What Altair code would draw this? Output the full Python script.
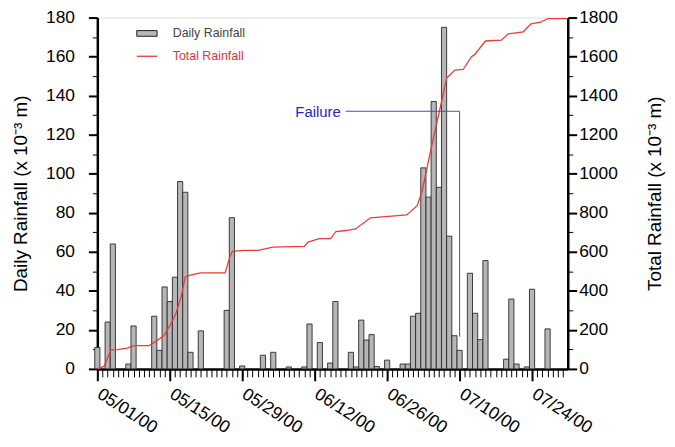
import json
import altair as alt
import pandas as pd

# ---------------- data ----------------
rain_dates = [
    "2000-05-01", "2000-05-03", "2000-05-04", "2000-05-07", "2000-05-08",
    "2000-05-12", "2000-05-13", "2000-05-14", "2000-05-15", "2000-05-16",
    "2000-05-17", "2000-05-18", "2000-05-19", "2000-05-21", "2000-05-26",
    "2000-05-27", "2000-05-29", "2000-06-02", "2000-06-04", "2000-06-07",
    "2000-06-10", "2000-06-11", "2000-06-13", "2000-06-15", "2000-06-16",
    "2000-06-19", "2000-06-20", "2000-06-21", "2000-06-22", "2000-06-23",
    "2000-06-24", "2000-06-26", "2000-06-29", "2000-06-30", "2000-07-01",
    "2000-07-02", "2000-07-03", "2000-07-04", "2000-07-05", "2000-07-06",
    "2000-07-07", "2000-07-08", "2000-07-09", "2000-07-10", "2000-07-12",
    "2000-07-13", "2000-07-14", "2000-07-15", "2000-07-19", "2000-07-20",
    "2000-07-21", "2000-07-23", "2000-07-24", "2000-07-27",
]
rain_values = [
    11, 24, 64, 2.5, 22,
    27, 9.5, 42, 34.5, 47,
    96, 90.5, 8.5, 19.5, 30,
    77.5, 1.5, 7, 8.5, 1,
    1, 23, 13.5, 3, 34.5,
    8.5, 1, 25, 14.8, 17.6,
    1.2, 4.5, 2.5, 2.5, 27,
    28.5, 103, 88, 137, 93,
    175, 68, 17, 9.5, 49,
    28.5, 15, 55.5, 5, 35.8,
    2.5, 1, 40.8, 20.5,
]

# cumulative (total) rainfall curve, days after 05/01/00
line_days = [
    0.06, 1.34, 2.6, 3.9, 5.8, 7.1, 10.0, 11.3, 12.85, 14.1, 15.1, 16.2, 17.0,
    18.0, 19.9, 24.7, 25.6, 26.1, 28.2, 31.1, 33.9, 40.0, 40.7, 42.9, 45.1,
    46.1, 48.0, 49.9, 52.8, 55.7, 59.8, 61.8, 62.7, 64.6, 66.6, 67.5, 69.1,
    70.7, 72.3, 72.9, 75.0, 78.1, 79.4, 82.3, 83.8, 85.7, 87.1, 90.9,
]
line_totals = [
    0, 14, 96, 99, 106, 119, 119, 141, 170, 226, 277, 370, 472,
    480, 492, 492, 573, 602, 607, 607, 624, 628, 650, 667, 667,
    704, 709, 717, 774, 780, 789, 836, 904, 1141, 1379, 1490, 1531,
    1534, 1600, 1610, 1680, 1684, 1717, 1727, 1768, 1777, 1795, 1795,
]

tick_dates = ["2000-05-01", "2000-05-15", "2000-05-29", "2000-06-12",
              "2000-06-26", "2000-07-10", "2000-07-24"]
tick_labels = ["05/01/00", "05/15/00", "05/29/00", "06/12/00",
               "06/26/00", "07/10/00", "07/24/00"]

failure_label = ["Failure"]
failure_from_date = ["2000-06-18"]
failure_date = ["2000-07-10"]
failure_level = [132]
failure_bottom = [16.5]

# ---------------- build tables ----------------
origin = pd.Timestamp("2000-05-01")


def day(s):
    return (pd.Timestamp(s) - origin).days


daily = pd.DataFrame({"day": [day(d) for d in rain_dates], "rain": rain_values})
daily["x0"] = daily["day"] - 0.5
daily["x1"] = daily["day"] + 0.5
daily["base"] = 0
daily["series"] = "Daily Rainfall"

total = pd.DataFrame({"day": line_days, "total": line_totals})
total["series"] = "Total Rainfall"

fail = pd.DataFrame({
    "label": failure_label,
    "x_from": [day(d) for d in failure_from_date],
    "x_to": [day(d) for d in failure_date],
    "level": failure_level,
    "bottom": failure_bottom,
})

tick_days = [day(d) for d in tick_dates]
label_expr = "{}[indexof({}, datum.value)]".format(json.dumps(tick_labels), json.dumps(tick_days))

FONT = "Liberation Sans"
xscale = alt.Scale(domain=[0, 90.9], nice=False, zero=False)
yleft = alt.Scale(domain=[0, 180], nice=False)
yright = alt.Scale(domain=[0, 1800], nice=False)

x_major = alt.Axis(orient="bottom", values=tick_days, labelExpr=label_expr,
                   tickSize=12, tickWidth=2, tickColor="black",
                   domainColor="black", domainWidth=2.5, grid=False, title=None,
                   labelAngle=33, labelAlign="left", labelBaseline="top",
                   labelPadding=4, labelOffset=6, labelFont=FONT, labelFontSize=17.5,
                   labelColor="black", labelOverlap=False, labelFlush=False, labelBound=False)
x_minor = alt.Axis(orient="bottom", values=list(range(0, 91)), labels=False,
                   tickSize=8, tickWidth=1, tickColor="black", domain=False,
                   grid=False, title=None)

y_left_major = alt.Axis(orient="left", values=list(range(0, 181, 20)), format="d",
                        tickSize=9, tickWidth=2, tickColor="black",
                        domainColor="black", domainWidth=2.5, grid=False,
                        labelFont=FONT, labelFontSize=17.5, labelColor="black",
                        labelPadding=14, labelOverlap=False, labelFlush=False,
                        title="Daily Rainfall (x 10⁻³ m)", titleFont=FONT,
                        titleFontSize=19, titleFontWeight="normal",
                        titleColor="black", titlePadding=15)
y_left_minor = alt.Axis(orient="left", values=list(range(10, 180, 20)),
                        labels=False, tickSize=5, tickWidth=1, tickColor="black",
                        domain=False, grid=False, title=None)

y_right_major = alt.Axis(orient="right", values=list(range(0, 1801, 200)), format="d",
                         tickSize=9, tickWidth=2, tickColor="black",
                         domainColor="black", domainWidth=2.5, grid=False,
                         labelFont=FONT, labelFontSize=17.5, labelColor="black",
                         labelPadding=2, labelOverlap=False, labelFlush=False,
                         title="Total Rainfall (x 10⁻³ m)", titleFont=FONT,
                         titleFontSize=19, titleFontWeight="normal",
                         titleColor="black", titleAngle=270,
                         titleBaseline="top", titlePadding=29)
y_right_minor = alt.Axis(orient="right", values=list(range(100, 1800, 200)),
                         labels=False, tickSize=5, tickWidth=1, tickColor="black",
                         domain=False, grid=False, title=None)

bars = alt.Chart(daily).mark_bar(stroke="#2a2a2a", strokeWidth=0.9).encode(
    x=alt.X("x0:Q", scale=xscale, axis=x_major),
    x2="x1:Q",
    y=alt.Y("rain:Q", scale=yleft, axis=y_left_major),
    y2="base:Q",
    fill=alt.Fill("series:N", scale=alt.Scale(range=["#b6b6b6"]),
                  legend=alt.Legend(orient="none", legendX=39, legendY=5, title=None,
                                    symbolType="M-1,-0.28H1V0.28H-1Z", symbolSize=420,
                                    symbolStrokeColor="#222", symbolStrokeWidth=1,
                                    symbolOpacity=1,
                                    labelFont=FONT, labelFontSize=12.5,
                                    labelColor="#444", labelOffset=15)),
)
bars_minor = alt.Chart(daily).mark_bar(opacity=0).encode(
    x=alt.X("x0:Q", scale=xscale, axis=x_minor),
    x2="x1:Q",
    y=alt.Y("rain:Q", scale=yleft, axis=y_left_minor),
    y2="base:Q",
)

line = alt.Chart(total).mark_line(strokeWidth=1.3).encode(
    x=alt.X("day:Q", scale=xscale, axis=None),
    y=alt.Y("total:Q", scale=yright, axis=y_right_major),
    stroke=alt.Stroke("series:N", scale=alt.Scale(range=["#ee3a3a"]),
                      legend=alt.Legend(orient="none", legendX=39, legendY=28, title=None,
                                        symbolType="stroke", symbolSize=420,
                                        symbolStrokeWidth=1.3,
                                        labelFont=FONT, labelFontSize=12.5,
                                        labelColor="#e8333a", labelOffset=15)),
)
line_minor = alt.Chart(total).mark_line(opacity=0).encode(
    x=alt.X("day:Q", scale=xscale, axis=None),
    y=alt.Y("total:Q", scale=yright, axis=y_right_minor),
)

fail_h = alt.Chart(fail).mark_rule(color="#4747d6", strokeWidth=1).encode(
    x=alt.X("x_from:Q", scale=xscale, axis=None),
    x2="x_to:Q",
    y=alt.Y("level:Q", scale=yleft, axis=None),
)
fail_v = alt.Chart(fail).mark_rule(color="#4747d6", strokeWidth=1).encode(
    x=alt.X("x_to:Q", scale=xscale, axis=None),
    y=alt.Y("level:Q", scale=yleft, axis=None),
    y2="bottom:Q",
)
fail_t = alt.Chart(fail).mark_text(align="right", baseline="middle", dx=-5, dy=1,
                                   font=FONT, fontSize=15, color="#2626c8").encode(
    x=alt.X("x_from:Q", scale=xscale, axis=None),
    y=alt.Y("level:Q", scale=yleft, axis=None),
    text="label:N",
)

chart = alt.layer(bars, bars_minor, line, line_minor, fail_h, fail_v, fail_t).resolve_scale(
    y="independent"
).resolve_axis(
    x="independent", y="independent"
).properties(
    width=474, height=354,
    autosize=alt.AutoSizeParams(type="none"),
    padding={"left": 90, "top": 8, "right": 100, "bottom": 70},
).configure_view(stroke=None).configure(background="white")

chart.save("out.html", embed_options={"renderer": "svg", "actions": False})
